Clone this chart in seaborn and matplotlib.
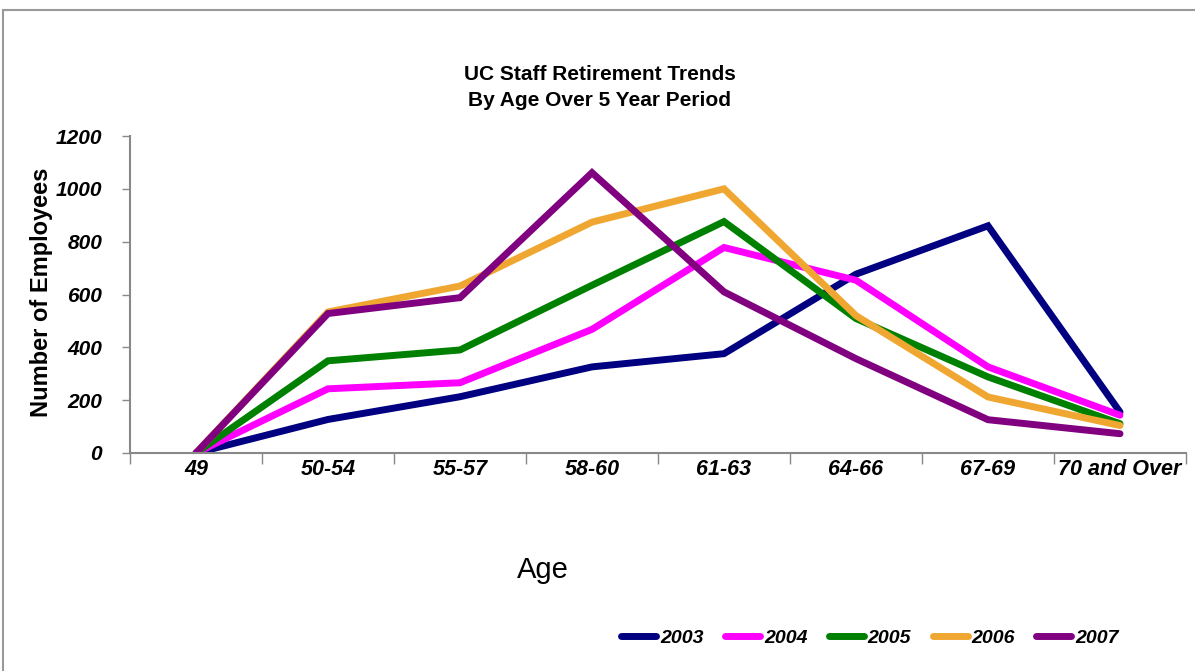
import matplotlib
matplotlib.use("Agg")
import matplotlib.pyplot as plt
import seaborn as sns
import pandas as pd
from matplotlib.patches import Rectangle

ages = ["49", "50-54", "55-57", "58-60", "61-63", "64-66", "67-69", "70 and Over"]
years = ["2003", "2004", "2005", "2006", "2007"]
v2003 = [0, 127, 213, 326, 376, 677, 860, 155]
v2004 = [0, 243, 266, 468, 778, 654, 326, 143]
v2005 = [0, 349, 390, 635, 876, 509, 288, 111]
v2006 = [0, 534, 632, 874, 1000, 520, 212, 104]
v2007 = [0, 528, 588, 1061, 610, 357, 126, 73]
yticks = [0, 200, 400, 600, 800, 1000, 1200]

colors = {"2003": "#000080", "2004": "#FF00FF", "2005": "#008000",
          "2006": "#F0A732", "2007": "#800080"}
widths = {"2003": 4.3, "2004": 4.3, "2005": 4.3, "2006": 2.7, "2007": 2.7}

series = {"2003": v2003, "2004": v2004, "2005": v2005, "2006": v2006, "2007": v2007}
rows = []
for y in years:
    for a, v in zip(ages, series[y]):
        rows.append({"Age": a, "Employees": v, "Year": y})
df = pd.DataFrame(rows)
df["pos"] = df["Age"].map({a: i for i, a in enumerate(ages)})

sns.set_theme(style="white")
narrow = ["Liberation Sans Narrow", "Liberation Sans", "DejaVu Sans"]
plt.rcParams["font.family"] = narrow
plt.rcParams["text.color"] = "black"
plt.rcParams["xtick.color"] = "black"
plt.rcParams["ytick.color"] = "black"
plt.rcParams["xtick.labelcolor"] = "black"
plt.rcParams["ytick.labelcolor"] = "black"

fig = plt.figure(figsize=(11.95, 6.71), dpi=100)
ax = fig.add_axes([130/1195, 218/671, (1186-130)/1195, (453-136)/671])

for y in years:
    sns.lineplot(data=df[df["Year"] == y], x="pos", y="Employees", ax=ax,
                 color=colors[y], linewidth=widths[y], label=y, sort=False,
                 solid_joinstyle="miter")

ax.set_xlim(-0.5, 7.5)
ax.set_ylim(0, 1200)
ax.set_yticks(yticks)
ax.set_yticklabels([str(t) for t in yticks], fontsize=15, fontweight="bold",
                   fontstyle="italic", color="black")
ax.set_xticks(range(len(ages)))
ax.set_xticklabels(ages, fontsize=15.5, fontweight="bold", fontstyle="italic",
                   color="black")
ax.set_xticks([i - 0.5 for i in range(len(ages) + 1)], minor=True)
ax.tick_params(axis="x", which="major", length=0, pad=4)
ax.tick_params(axis="x", which="minor", length=8, width=1, color="#888888",
               direction="out", bottom=True)
ax.tick_params(axis="y", which="major", length=6, width=1, color="#888888",
               direction="out", left=True, pad=14)

for s in ["top", "right"]:
    ax.spines[s].set_visible(False)
for s in ["left", "bottom"]:
    ax.spines[s].set_color("#888888")
    ax.spines[s].set_linewidth(1.5)

ax.set_xlabel("")
ax.set_ylabel("")
fig.text(42/1195, 1 - 292/671, "Number of Employees", rotation=90,
         ha="center", va="center", fontsize=17, fontweight="bold",
         color="black", family=["Liberation Sans", "DejaVu Sans"])
fig.text(543/1195, 1 - 570/671, "Age", ha="center", va="center", fontsize=21,
         color="black")
fig.text(600/1195, 1 - 75/671, "UC Staff Retirement Trends", ha="center",
         va="center", fontsize=15, fontweight="bold", color="black")
fig.text(600/1195, 1 - 100/671, "By Age Over 5 Year Period", ha="center",
         va="center", fontsize=15, fontweight="bold", color="black")

ax.legend_.remove()
handles, labels = ax.get_legend_handles_labels()
for h in handles:
    h.set_linewidth(5)
leg = fig.legend(handles, labels, loc="center", ncol=5,
                 bbox_to_anchor=(870/1195, 1 - 638/671), frameon=False,
                 handlelength=1.8, columnspacing=1.1, handletextpad=0.2,
                 labelcolor="black",
                 prop={"size": 14, "weight": "bold", "style": "italic",
                       "family": narrow})

fig.patches.append(Rectangle((3/1195, -0.05), 1.1, 0.985 + 0.05,
                             transform=fig.transFigure, fill=False,
                             edgecolor="#999999", linewidth=1.5))

fig.savefig("out.png", dpi=100, facecolor="white")
